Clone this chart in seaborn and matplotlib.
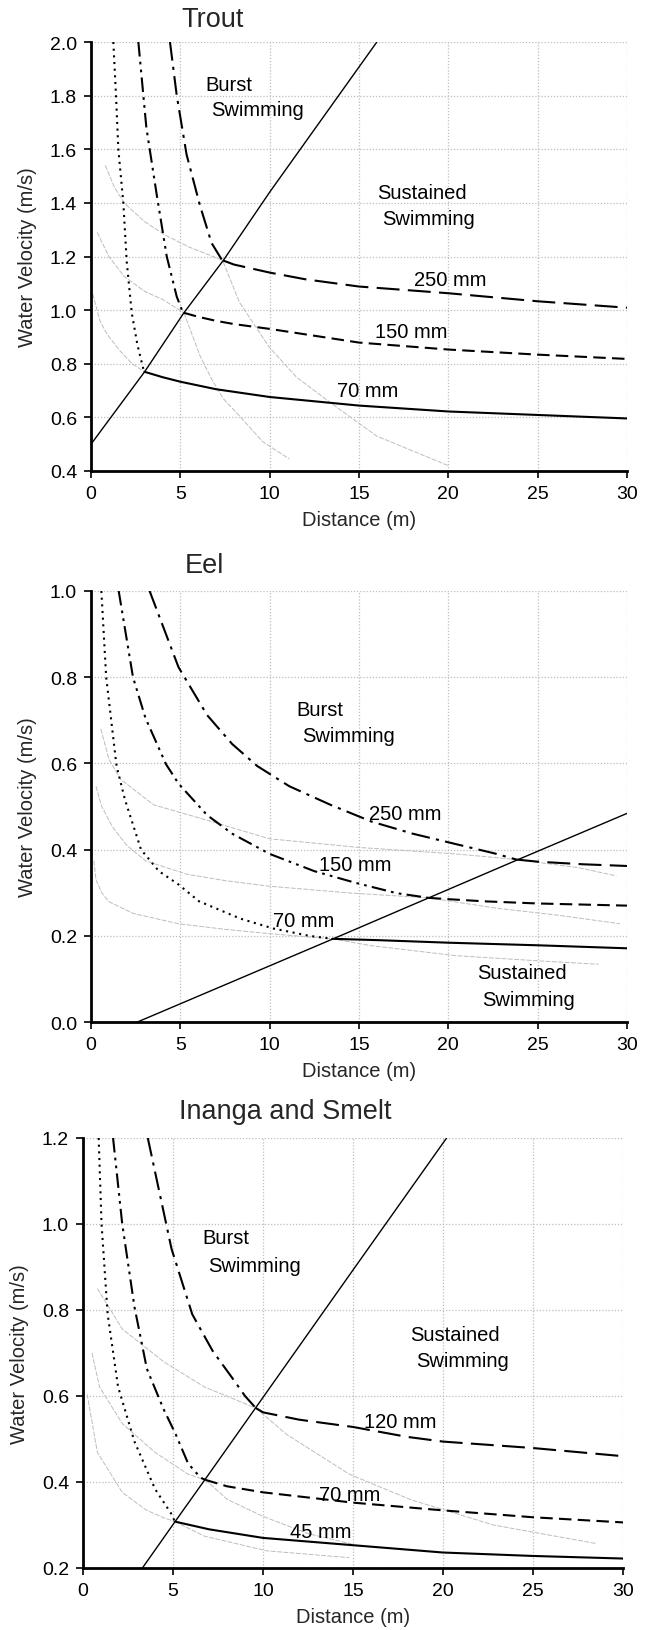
import numpy as np
import pandas as pd
import seaborn as sns
import matplotlib
matplotlib.use("Agg")
import matplotlib.pyplot as plt
from matplotlib.ticker import FormatStrFormatter, MultipleLocator

# ---------------- DATA ----------------
# Trout (distance m, velocity m/s)
trout_line_d = [0, 3.0, 5.2, 7.4, 10, 13, 16]
trout_line_v = [0.5, 0.77, 0.99, 1.185, 1.44, 1.72, 2.0]
trout_b70_d = [1.25, 1.4, 1.53, 1.81, 2.0, 2.28, 2.6, 2.95]
trout_b70_v = [2.0, 1.8, 1.6, 1.4, 1.18, 0.99, 0.87, 0.775]
trout_b150_d = [2.65, 3.1, 3.68, 4.24, 4.8, 5.15]
trout_b150_v = [2.0, 1.68, 1.43, 1.2, 1.05, 0.99]
trout_b250_d = [4.42, 4.8, 5.35, 6.1, 6.75, 7.35]
trout_b250_v = [2.0, 1.8, 1.58, 1.39, 1.25, 1.185]
trout_s70_d = [3.0, 4, 5, 7, 10, 15, 20, 25, 30]
trout_s70_v = [0.77, 0.75, 0.733, 0.705, 0.676, 0.644, 0.622, 0.609, 0.596]
trout_s150_d = [5.2, 6, 7, 8, 10, 15, 20, 25, 30]
trout_s150_v = [0.99, 0.975, 0.96, 0.948, 0.93, 0.879, 0.853, 0.834, 0.818]
trout_s250_d = [7.4, 8, 10, 12, 15, 20, 25, 30]
trout_s250_v = [1.185, 1.17, 1.14, 1.115, 1.088, 1.063, 1.033, 1.009]
trout_gs70_d = [0.1, 0.5, 0.9, 1.6, 2.3, 3.0]
trout_gs70_v = [1.06, 0.96, 0.91, 0.85, 0.80, 0.77]
trout_gs150_d = [0.35, 1.0, 1.85, 3.0, 4.0, 5.2]
trout_gs150_v = [1.29, 1.2, 1.126, 1.07, 1.04, 0.99]
trout_gs250_d = [0.8, 1.3, 1.85, 3.0, 4.15, 5.5, 7.4]
trout_gs250_v = [1.54, 1.46, 1.40, 1.33, 1.28, 1.235, 1.185]
trout_gb150_d = [5.2, 6.1, 6.75, 7.4, 8.3, 9.6, 11.1]
trout_gb150_v = [0.99, 0.83, 0.743, 0.67, 0.606, 0.51, 0.445]
trout_gb250_d = [7.4, 8.3, 10, 11.5, 13.5, 16, 20]
trout_gb250_v = [1.18, 1.03, 0.86, 0.75, 0.65, 0.53, 0.42]

# Eel
eel_line_d = [2.6, 13.5, 18.9, 23.8, 30]
eel_line_v = [0.0, 0.192, 0.288, 0.375, 0.484]
eel_b70_d = [0.58, 0.85, 1.43, 1.9, 2.8, 3.8, 4.9, 6.05, 8.35, 10.2, 12.2, 13.5]
eel_b70_v = [1.0, 0.8, 0.594, 0.516, 0.40, 0.35, 0.319, 0.28, 0.24, 0.217, 0.2, 0.193]
eel_b150_d = [1.55, 2.35, 3.05, 4.2, 4.9, 6.5, 7.9, 10, 12.5, 14.8, 17.1, 18.9]
eel_b150_v = [1.0, 0.8, 0.705, 0.598, 0.553, 0.48, 0.437, 0.39, 0.35, 0.323, 0.299, 0.288]
eel_b250_d = [3.28, 4.9, 6.5, 7.9, 9.3, 11.1, 13.4, 15.7, 18, 20.4, 22.7, 23.8]
eel_b250_v = [1.0, 0.823, 0.712, 0.645, 0.594, 0.547, 0.504, 0.465, 0.437, 0.413, 0.39, 0.377]
eel_s70_d = [13.5, 16, 20, 25, 30]
eel_s70_v = [0.193, 0.19, 0.184, 0.178, 0.171]
eel_s150_d = [18.9, 20, 22, 25, 30]
eel_s150_v = [0.288, 0.285, 0.28, 0.275, 0.27]
eel_s250_d = [23.8, 25, 27.5, 30]
eel_s250_v = [0.377, 0.372, 0.366, 0.362]
eel_gs70_d = [0.16, 0.28, 0.6, 0.97, 2.35, 4.9, 7.5, 10, 13.5]
eel_gs70_v = [0.374, 0.33, 0.3, 0.28, 0.252, 0.228, 0.215, 0.205, 0.193]
eel_gs150_d = [0.28, 0.6, 1.2, 2.0, 3.05, 5.35, 7.5, 10, 14.6, 18.9]
eel_gs150_v = [0.547, 0.5, 0.453, 0.41, 0.374, 0.343, 0.328, 0.315, 0.299, 0.288]
eel_gs250_d = [0.55, 1.0, 1.66, 3.5, 6.5, 10, 15, 20.4, 23.8]
eel_gs250_v = [0.68, 0.61, 0.563, 0.504, 0.468, 0.425, 0.405, 0.39, 0.377]
eel_gb70_d = [13.5, 15.7, 20.4, 25, 28.4]
eel_gb70_v = [0.193, 0.177, 0.154, 0.142, 0.134]
eel_gb150_d = [18.9, 22.7, 26.1, 29.6]
eel_gb150_v = [0.288, 0.264, 0.248, 0.228]
eel_gb250_d = [23.8, 27.3, 29.4]
eel_gb250_v = [0.377, 0.358, 0.339]

# Inanga and Smelt
ina_line_d = [3.3, 5.1, 6.8, 9.6, 15, 20.2]
ina_line_v = [0.2, 0.307, 0.407, 0.573, 0.893, 1.2]
ina_b45_d = [0.87, 1.03, 1.37, 1.95, 2.86, 4.0, 4.92, 5.1]
ina_b45_v = [1.2, 1.0, 0.79, 0.621, 0.494, 0.384, 0.325, 0.308]
ina_b70_d = [1.67, 2.18, 2.86, 3.55, 4.47, 5.15, 5.84, 6.53, 6.8]
ina_b70_v = [1.2, 1.0, 0.807, 0.663, 0.57, 0.511, 0.443, 0.41, 0.405]
ina_b120_d = [3.6, 4.92, 6.07, 7.2, 8.36, 9.0, 9.6]
ina_b120_v = [1.2, 0.942, 0.79, 0.705, 0.638, 0.6, 0.572]
ina_s45_d = [5.1, 7, 10, 15, 20, 25, 30]
ina_s45_v = [0.308, 0.29, 0.27, 0.253, 0.236, 0.228, 0.222]
ina_s70_d = [6.8, 8, 10, 15, 20, 25, 30]
ina_s70_v = [0.405, 0.39, 0.376, 0.352, 0.334, 0.318, 0.306]
ina_s120_d = [9.6, 10, 12, 15, 18, 20, 25, 30]
ina_s120_v = [0.572, 0.562, 0.545, 0.528, 0.505, 0.494, 0.479, 0.46]
ina_gs45_d = [0.23, 0.8, 2.18, 3.5, 4.47, 5.1]
ina_gs45_v = [0.604, 0.469, 0.376, 0.335, 0.317, 0.308]
ina_gs70_d = [0.5, 0.92, 2.18, 4.0, 5.84, 6.8]
ina_gs70_v = [0.7, 0.621, 0.536, 0.469, 0.418, 0.405]
ina_gs120_d = [0.8, 2.18, 4.47, 6.75, 9.6]
ina_gs120_v = [0.85, 0.756, 0.68, 0.621, 0.572]
ina_gb45_d = [5.1, 6.75, 10.2, 14.8]
ina_gb45_v = [0.308, 0.274, 0.24, 0.224]
ina_gb70_d = [6.8, 8, 10, 12.5, 15]
ina_gb70_v = [0.405, 0.36, 0.32, 0.28, 0.255]
ina_gb120_d = [9.6, 11.3, 14.8, 18.2, 22.8, 28.5]
ina_gb120_v = [0.572, 0.511, 0.418, 0.359, 0.3, 0.257]

titles = ["Trout", "Eel", "Inanga and Smelt"]
ylims = [(0.4, 2.0), (0.0, 1.0), (0.2, 1.2)]
x_ticks = [0, 5, 10, 15, 20, 25, 30]

trout_labels = [("Burst", 6.4, 1.84, "left"), ("Swimming", 6.7, 1.75, "left"),
                ("Sustained", 16.0, 1.44, "left"), ("Swimming", 16.3, 1.34, "left"),
                ("250 mm", 20.1, 1.116, "center"), ("150 mm", 17.9, 0.92, "center"),
                ("70 mm", 15.5, 0.70, "center")]
eel_labels = [("Burst", 11.5, 0.724, "left"), ("Swimming", 11.8, 0.664, "left"),
              ("250 mm", 17.6, 0.483, "center"), ("150 mm", 14.8, 0.365, "center"),
              ("70 mm", 11.9, 0.236, "center"),
              ("Sustained", 21.6, 0.114, "left"), ("Swimming", 21.9, 0.053, "left")]
ina_labels = [("Burst", 6.64, 0.968, "left"), ("Swimming", 6.94, 0.904, "left"),
              ("Sustained", 18.2, 0.743, "left"), ("Swimming", 18.5, 0.683, "left"),
              ("120 mm", 17.6, 0.541, "center"), ("70 mm", 14.8, 0.372, "center"),
              ("45 mm", 13.2, 0.285, "center")]

# ---------------- STYLE ----------------
sns.set_style("white")
plt.rcParams['font.family'] = ['Liberation Sans', 'DejaVu Sans']

GRAY = "#bdbdbd"
GRAYLS = (0, (5, 1.5))
DOT = (0, (1.0, 2.2))
DDOT = (0, (7, 2.5, 1.3, 2.5, 1.3, 2.5))
DASHDOT = (0, (9, 3, 1.5, 3))
DASH = (0, (6, 3))
LDASH = (0, (11, 4))

def draw(ax, d, v, color="black", lw=1.3, ls="-", z=3):
    df = pd.DataFrame({"d": d, "v": v})
    sns.lineplot(data=df, x="d", y="v", ax=ax, color=color, linewidth=lw,
                 linestyle=ls, sort=False, estimator=None, zorder=z)

panels = [
    dict(line=(trout_line_d, trout_line_v),
         black=[(trout_b70_d, trout_b70_v, DOT, 1.5), (trout_b150_d, trout_b150_v, DDOT, 1.5),
                (trout_b250_d, trout_b250_v, DASHDOT, 1.5),
                (trout_s70_d, trout_s70_v, "-", 1.5), (trout_s150_d, trout_s150_v, DASH, 1.5),
                (trout_s250_d, trout_s250_v, LDASH, 1.5)],
         gray=[(trout_gs70_d, trout_gs70_v), (trout_gs150_d, trout_gs150_v),
               (trout_gs250_d, trout_gs250_v), (trout_gb150_d, trout_gb150_v),
               (trout_gb250_d, trout_gb250_v)],
         labels=trout_labels,
         rect=[91/646, 1-472/1631, 536/646, 429/1631], title_x=213/646, title_y=1-20/1631),
    dict(line=(eel_line_d, eel_line_v),
         black=[(eel_b70_d, eel_b70_v, DOT, 1.5), (eel_b150_d, eel_b150_v, DDOT, 1.5),
                (eel_b250_d, eel_b250_v, DASHDOT, 1.5),
                (eel_s70_d, eel_s70_v, "-", 1.5), (eel_s150_d, eel_s150_v, DASH, 1.5),
                (eel_s250_d, eel_s250_v, LDASH, 1.5)],
         gray=[(eel_gs70_d, eel_gs70_v), (eel_gs150_d, eel_gs150_v), (eel_gs250_d, eel_gs250_v),
               (eel_gb70_d, eel_gb70_v), (eel_gb150_d, eel_gb150_v), (eel_gb250_d, eel_gb250_v)],
         labels=eel_labels,
         rect=[91/646, 1-1023/1631, 536/646, 431/1631], title_x=204/646, title_y=1-566/1631),
    dict(line=(ina_line_d, ina_line_v),
         black=[(ina_b45_d, ina_b45_v, DOT, 1.5), (ina_b70_d, ina_b70_v, DDOT, 1.5),
                (ina_b120_d, ina_b120_v, DASHDOT, 1.5),
                (ina_s45_d, ina_s45_v, "-", 1.5), (ina_s70_d, ina_s70_v, DASH, 1.5),
                (ina_s120_d, ina_s120_v, LDASH, 1.5)],
         gray=[(ina_gs45_d, ina_gs45_v), (ina_gs70_d, ina_gs70_v), (ina_gs120_d, ina_gs120_v),
               (ina_gb45_d, ina_gb45_v), (ina_gb70_d, ina_gb70_v), (ina_gb120_d, ina_gb120_v)],
         labels=ina_labels,
         rect=[83/646, 1-1569/1631, 540/646, 430/1631], title_x=285/646, title_y=1-1112/1631),
]

fig = plt.figure(figsize=(6.46, 16.31), dpi=100)

for i, p in enumerate(panels):
    ax = fig.add_axes(p["rect"])
    for d, v in p["gray"]:
        draw(ax, d, v, color=GRAY, lw=0.7, ls=GRAYLS, z=2)
    draw(ax, p["line"][0], p["line"][1], color="black", lw=1.0, ls="-", z=3)
    for d, v, ls, lw in p["black"]:
        draw(ax, d, v, color="black", lw=lw, ls=ls, z=4)
    for txt, x, y, ha in p["labels"]:
        ax.text(x, y, txt, ha=ha, va="center", fontsize=14.5, color="black", zorder=5)

    ax.set_xlim(0, 30)
    ax.set_ylim(*ylims[i])
    ax.set_xticks(x_ticks)
    ax.yaxis.set_major_locator(MultipleLocator(0.2))
    ax.yaxis.set_major_formatter(FormatStrFormatter('%.1f'))
    ax.grid(True, color="#bdbdbd", linestyle=(0, (1, 1.5)), linewidth=0.9)
    ax.set_axisbelow(True)
    for s in ["top", "right"]:
        ax.spines[s].set_visible(False)
    for s in ["left", "bottom"]:
        ax.spines[s].set_color("black")
        ax.spines[s].set_linewidth(2.0)
        ax.spines[s].set_zorder(6)
    ax.tick_params(axis="both", direction="out", length=5, width=1.2, colors="black",
                   labelsize=14, left=True, bottom=True, pad=5)
    ax.set_xlabel("Distance (m)", fontsize=14.5, labelpad=6)
    ax.set_ylabel("Water Velocity (m/s)", fontsize=14.5, labelpad=9)
    fig.text(p["title_x"], p["title_y"], titles[i], ha="center", va="center", fontsize=19.5)

fig.savefig("out.png", dpi=100)
